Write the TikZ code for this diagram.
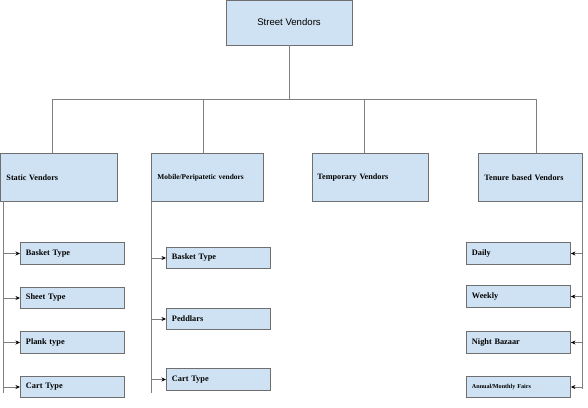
\documentclass[tikz,border=0pt]{standalone}
\usepackage{fontspec}
\setmainfont{Liberation Serif}
\newfontfamily\headfont{Liberation Sans}
\usepackage{tikz}
\usetikzlibrary{arrows.meta, positioning, calc}
\definecolor{boxblue}{HTML}{CFE2F3}
\definecolor{edgegray}{HTML}{6F6F6F}
\definecolor{linegray}{HTML}{7F7F7F}

\begin{document}
\begin{tikzpicture}[x=1pt, y=-1pt,
    box/.style={draw=edgegray, fill=boxblue, line width=0.9pt, inner ysep=0pt},
    top/.style={box, minimum width=126pt, minimum height=45pt, font=\headfont\fontsize{9.6}{11}\selectfont},
    group/.style={box, anchor=north west, minimum height=48pt, inner xsep=6pt, align=left, font=\fontsize{8.2}{10}\selectfont\bfseries},
    item/.style={box, anchor=west, minimum height=21.5pt, inner xsep=5.5pt, text width=93pt, align=left, font=\fontsize{8.3}{10}\selectfont\bfseries},
    wire/.style={draw=linegray, line width=0.9pt},
    feed/.style={wire, -{Stealth[length=4.5pt, width=4pt, black]}}]
    \useasboundingbox (0,0) rectangle (588,407);
    % Top
    \node[top] (street) at (289,22.5) {Street Vendors};
    % Categories
    \node[group, text width=105pt] (static) at (0,153) {Static Vendors};
    \node[group, text width=100pt, font=\fontsize{7.4}{9}\selectfont\bfseries] (mobile) at (151,153) {Mobile/Peripatetic vendors};
    \node[group, inner xsep=5pt, text width=106pt] (temporary) at (312,153) {Temporary Vendors};
    \node[group, text width=92pt] (tenure) at (478,153) {Tenure based Vendors};
    % Bus
    \coordinate (hub) at (289,99);
    \coordinate (b1) at (52,99);
    \coordinate (b2) at (203,99);
    \coordinate (b3) at (364,99);
    \coordinate (b4) at (536,99);
    \draw[wire] (street) -- (hub);
    \draw[wire] (b1) -- (b4);
    \foreach \b/\g in {b1/static, b2/mobile, b3/temporary, b4/tenure}
        \draw[wire] (\b) -- (\b |- \g.north);
    % Static types
    \node[item] (sbasket) at (20,253.5) {Basket Type};
    \node[item] (ssheet) at (20,298) {Sheet Type};
    \node[item] (splank) at (20,342.5) {Plank type};
    \node[item] (scart) at (20,387) {Cart Type};
    \coordinate (stop) at (3,201);
    \coordinate (sbot) at (3,393);
    \draw[wire] (stop) -- (sbot);
    \foreach \n in {sbasket, ssheet, splank, scart}
        \draw[feed] (stop |- \n.west) -- (\n.west);
    % Mobile types
    \node[item] (mbasket) at (166,258) {Basket Type};
    \node[item] (mpeddlar) at (166,319) {Peddlars};
    \node[item] (mcart) at (166,379.5) {Cart Type};
    \coordinate (mtop) at (151,201);
    \coordinate (mbot) at (151,393);
    \draw[wire] (mtop) -- (mbot);
    \foreach \n in {mbasket, mpeddlar, mcart}
        \draw[feed] (mtop |- \n.west) -- (\n.west);
    % Tenure types
    \node[item] (daily) at (466,253.5) {Daily};
    \node[item] (weekly) at (466,296.5) {Weekly};
    \node[item] (night) at (466,342.5) {Night Bazaar};
    \node[item, font=\fontsize{6.1}{7}\selectfont\bfseries] (fairs) at (466,387) {Annual/Monthly Fairs};
    \coordinate (ttop) at (582,201);
    \coordinate (tbot) at (582,389);
    \draw[wire] (ttop) -- (tbot);
    \foreach \n in {daily, weekly, night, fairs}
        \draw[feed] (ttop |- \n.east) -- (\n.east);
\end{tikzpicture}
\end{document}
